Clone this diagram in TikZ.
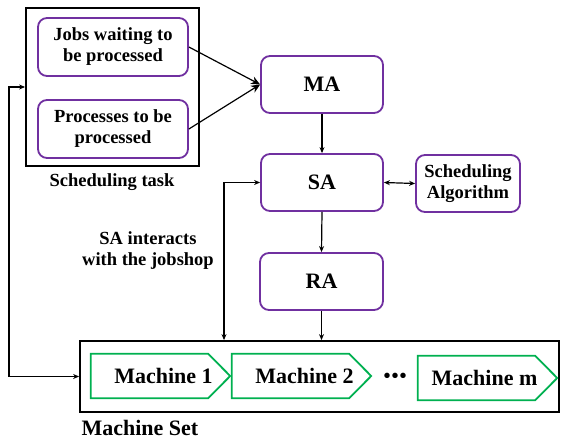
\documentclass[tikz,border=0pt]{standalone}
\usepackage{fontspec}
\setmainfont{Liberation Serif}[BoldFont={Liberation Serif Bold}]
\usetikzlibrary{arrows.meta,calc}
\definecolor{boxpurple}{RGB}{112,48,160}
\definecolor{machgreen}{RGB}{0,176,80}
\tikzset{
  pbox/.style={draw=boxpurple,line width=1.8pt,rounded corners=9pt,fill=white,align=center,inner sep=0pt},
  obox/.style={draw=black,line width=1.8pt,inner sep=0pt},
  conn/.style={line width=1.2pt,-{Stealth[length=6pt,width=5pt]}},
  dconn/.style={line width=1.2pt,{Stealth[length=6pt,width=5pt]}-{Stealth[length=6pt,width=5pt]}},
  txt18/.style={font=\rmfamily\bfseries\fontsize{18.5}{21}\selectfont,align=center},
  txt22/.style={font=\rmfamily\bfseries\fontsize{22}{24}\selectfont},
  mach/.style={minimum width=139pt,minimum height=44pt,inner sep=0pt,font=\rmfamily\bfseries\fontsize{22}{24}\selectfont},
  machline/.style={draw=machgreen,line width=1.8pt}
}
\begin{document}
\begin{tikzpicture}[x=1pt,y=-1pt]
\useasboundingbox (0,0) rectangle (561,439);
% scheduling task
\node[obox,minimum width=173pt,minimum height=158pt] (task) at (112.5,87) {};
\node[pbox,minimum width=150pt,minimum height=58pt,txt18] (jobs) at (113,47) {Jobs waiting to\\be processed};
\node[pbox,minimum width=150pt,minimum height=58pt,txt18] (procs) at (113,129) {Processes to be\\processed};
\node[txt18] (tasklbl) at (112,182) {Scheduling task};
% agents
\node[pbox,minimum width=122pt,minimum height=57pt,txt22] (ma) at (322,84.5) {MA};
\node[pbox,minimum width=122pt,minimum height=57pt,txt22] (sa) at (322,182.5) {SA};
\node[pbox,minimum width=104pt,minimum height=57pt,txt18] (alg) at (468,183.5) {Scheduling\\Algorithm};
\node[pbox,minimum width=123pt,minimum height=57pt,txt22] (ra) at (321.5,281.5) {RA};
\node[txt18] (inter) at (148,251) {SA interacts\\with the jobshop};
% machine set
\node[obox,minimum width=479pt,minimum height=71pt] (mset) at (319.5,376.5) {};
\node[txt22,anchor=west] (msetlbl) at (78,428) {Machine Set};
\node[mach] (m1) at (160.5,376) {\hspace*{6pt}Machine 1};
\node[mach] (m2) at (301.5,376) {\hspace*{6pt}Machine 2};
\node[mach] (mm) at (487.5,378) {\hspace*{-6pt}Machine m};
\node[font=\rmfamily\bfseries\fontsize{20}{20}\selectfont] (dots) at (395,378) {•\kern1pt•\kern1pt•};
\foreach \m in {m1,m2,mm}{
  \draw[machline] (\m.north west) -- ($(\m.north east)+(-22,0)$) -- (\m.east) -- ($(\m.south east)+(-22,0)$) -- (\m.south west) -- cycle;
}
% connectors
\draw[line width=1.2pt,-{Stealth[length=9pt,width=8pt]}] (jobs.east) -- (ma.west);
\draw[line width=1.2pt,-{Stealth[length=9pt,width=8pt]}] (procs.east) -- (ma.west);
\draw[conn] (ma.south) -- (sa.north);
\draw[dconn] (sa.east) -- (alg.west);
\draw[conn] (sa.south) -- (ra.north);
\draw[conn] (ra.south) -- (ra.south |- mset.north);
\coordinate (c1) at (224,0);
\draw[dconn] (sa.west) -| (c1 |- mset.north);
\coordinate (c2) at (9,0);
\draw[dconn] (task.west) -| (c2 |- mset.west) -- (mset.west);
\end{tikzpicture}
\end{document}
